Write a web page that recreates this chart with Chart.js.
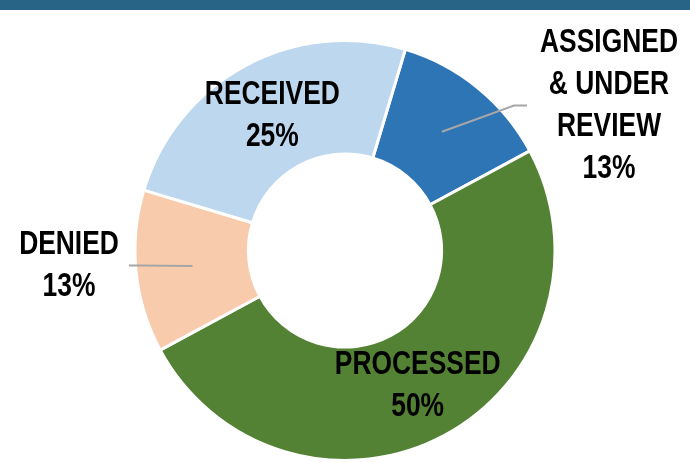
<!DOCTYPE html>
<html>
<head>
<meta charset="utf-8">
<script src="https://cdn.jsdelivr.net/npm/chart.js@4/dist/chart.umd.min.js"></script>
<style>
  html, body { margin: 0; padding: 0; background: #fff; }
  #wrap { position: relative; width: 690px; height: 462px; overflow: hidden; }
  #band { position: absolute; left: 0; top: 0; width: 690px; height: 10px; background: #286486; }
</style>
</head>
<body>
<div id="wrap">
  <canvas id="chart" width="690" height="462"></canvas>
  <div id="band"></div>
</div>
<script>
// chart values
var CATEGORIES = ['ASSIGNED & UNDER REVIEW', 'PROCESSED', 'DENIED', 'RECEIVED'];
var LABEL_LINES = [['ASSIGNED', '& UNDER', 'REVIEW'], ['PROCESSED'], ['DENIED'], ['RECEIVED']];
var VALUES = [12.5, 50, 12.5, 25];
var COLORS = ['#2E75B6', '#548235', '#F8CBAD', '#BDD7EE'];

// the original uses a condensed bold face, so squeeze a regular one horizontally
var FONT = "bold 33px 'Liberation Sans', Arial, sans-serif";
var SQUEEZE = 0.8;
var LINE_H = 42;

// labels: inside ones sit in the middle of the ring, outside ones get a leader line
var labelPlacement = [
  { outside: true, dx: 264, dy: -145, side: 'right' },
  { outside: false },
  { outside: true, dx: -276, dy: 15, side: 'left' },
  { outside: false }
];

var total = VALUES.reduce(function (a, b) { return a + b; }, 0);

var donutLabels = {
  id: 'donutLabels',
  afterDatasetsDraw: function (chart) {
    var ctx = chart.ctx;
    var meta = chart.getDatasetMeta(0);
    ctx.save();
    ctx.font = FONT;
    ctx.fillStyle = '#000';
    ctx.textAlign = 'center';
    ctx.textBaseline = 'middle';

    meta.data.forEach(function (arc, i) {
      var p = arc.getProps(['x', 'y', 'startAngle', 'endAngle', 'innerRadius', 'outerRadius'], true);
      var mid = (p.startAngle + p.endAngle) / 2;
      var rMid = (p.innerRadius + p.outerRadius) / 2;
      var ax = p.x + Math.cos(mid) * rMid;
      var ay = p.y + Math.sin(mid) * rMid;
      var lines = LABEL_LINES[i].concat([Math.round(VALUES[i] / total * 100) + '%']);
      var place = labelPlacement[i];
      var cx = ax, cy = ay;

      if (place.outside) {
        cx = p.x + place.dx;
        cy = p.y + place.dy;
        var w = 0;
        lines.forEach(function (l) { w = Math.max(w, ctx.measureText(l).width * SQUEEZE); });
        var edge = place.side === 'right' ? cx - w / 2 - 13 : cx + w / 2 + 10;
        var elbow = place.side === 'right' ? edge - 13 : edge + 13;
        ctx.beginPath();
        ctx.strokeStyle = '#A6A6A6';
        ctx.lineWidth = 2;
        ctx.moveTo(ax, ay);
        ctx.lineTo(elbow, cy);
        ctx.lineTo(edge, cy);
        ctx.stroke();
      }

      lines.forEach(function (l, k) {
        ctx.save();
        ctx.translate(cx, cy + (k - (lines.length - 1) / 2) * LINE_H);
        ctx.scale(SQUEEZE, 1);
        ctx.fillText(l, 0, 0);
        ctx.restore();
      });
    });
    ctx.restore();
  }
};

new Chart(document.getElementById('chart'), {
  type: 'doughnut',
  data: {
    labels: CATEGORIES,
    datasets: [{
      data: VALUES,
      backgroundColor: COLORS,
      borderColor: '#ffffff',
      borderWidth: 3
    }]
  },
  options: {
    responsive: false,
    animation: false,
    rotation: 16.7,
    cutout: '46%',
    layout: { padding: { top: 39, bottom: -5, left: -2, right: 0 } },
    plugins: {
      legend: { display: false },
      tooltip: { enabled: false }
    }
  },
  plugins: [donutLabels]
});
</script>
</body>
</html>
